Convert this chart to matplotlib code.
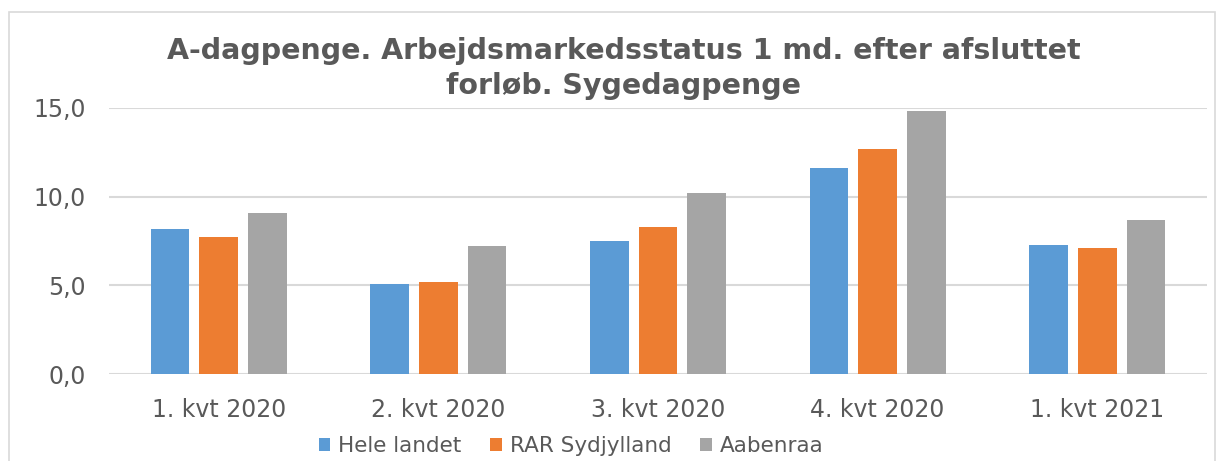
import numpy as np
import matplotlib
matplotlib.use("Agg")
import matplotlib.pyplot as plt
from matplotlib.patches import Rectangle
from matplotlib.ticker import FuncFormatter

categories = ["1. kvt 2020", "2. kvt 2020", "3. kvt 2020", "4. kvt 2020", "1. kvt 2021"]
hele_landet = [8.2, 5.1, 7.5, 11.6, 7.3]
rar_sydjylland = [7.7, 5.2, 8.3, 12.7, 7.1]
aabenraa = [9.1, 7.2, 10.2, 14.8, 8.7]
series_names = ["Hele landet", "RAR Sydjylland", "Aabenraa"]
colors = ["#5B9BD5", "#ED7D31", "#A5A5A5"]

txt = "#595959"
W, H = 1230, 461

fig = plt.figure(figsize=(W / 100, H / 100), dpi=100)
ax = fig.add_axes([109 / W, 1 - 374.3 / H, (1207 - 109) / W, (374.3 - 107.7) / H])

# chart border
fig.patches.append(Rectangle((9 / W, -0.05), (1215 - 9) / W, 1.05 - 12 / H,
                             transform=fig.transFigure, fill=False,
                             edgecolor="#D9D9D9", linewidth=1.2))

x = np.arange(len(categories))
bw = 0.176
step = 0.222
for i, (vals, name) in enumerate(zip([hele_landet, rar_sydjylland, aabenraa], series_names)):
    ax.bar(x + (i - 1) * step, vals, width=bw, color=colors[i], label=name, zorder=3)

ax.set_ylim(0, 15)
ax.set_xlim(-0.5, len(categories) - 0.5)
ax.set_yticks([0, 5, 10, 15])
ax.yaxis.set_major_formatter(FuncFormatter(lambda v, p: f"{v:.1f}".replace(".", ",")))
ax.grid(axis="y", color="#D9D9D9", linewidth=1.5, zorder=0)
ax.set_axisbelow(True)
for s in ax.spines.values():
    s.set_visible(False)
ax.set_xticks(x)
ax.set_xticklabels(categories)
ax.tick_params(axis="both", length=0, labelsize=17, colors=txt)
ax.tick_params(axis="x", pad=17)
ax.tick_params(axis="y", pad=16.5)

fig.text(624 / W, 1 - 37 / H, "A-dagpenge. Arbejdsmarkedsstatus 1 md. efter afsluttet\nforløb. Sygedagpenge",
         ha="center", va="top", fontsize=20.5, fontweight="bold", color=txt,
         linespacing=1.3)

leg = fig.legend(loc="center", bbox_to_anchor=(571 / W, 1 - 446 / H), ncol=3, frameon=False,
                 fontsize=15.5, handlelength=0.55, handleheight=0.55, handletextpad=0.35,
                 columnspacing=1.35, borderaxespad=0, borderpad=0)
for t in leg.get_texts():
    t.set_color(txt)

fig.savefig("out.png", dpi=100)
